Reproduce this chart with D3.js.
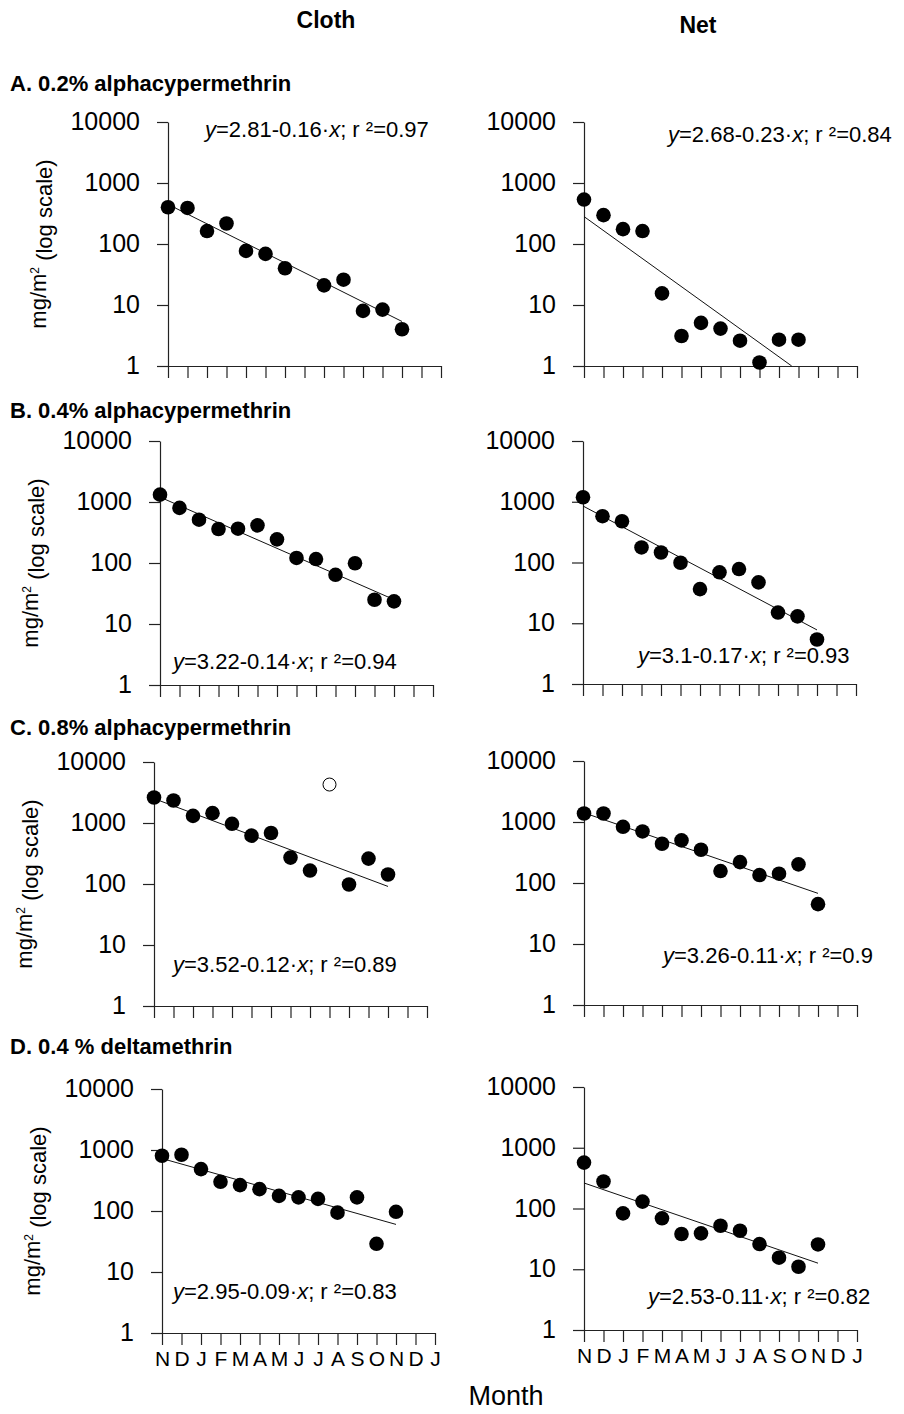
<!DOCTYPE html>
<html>
<head>
<meta charset="utf-8">
<script src="https://cdn.jsdelivr.net/npm/d3@7"></script>
<style>
  body { margin: 0; background: #fff; }
  text { font-family: "Liberation Sans", Arial, Helvetica, sans-serif; fill: #000; }
</style>
</head>
<body>
<div id="chart"></div>
<script>
// month ticks along the x axis (index 0 = first N)
var months = ["N", "D", "J", "F", "M", "A", "M", "J", "J", "A", "S", "O", "N", "D", "J"]
var yTicks = [1, 10, 100, 1000, 10000]

// residues, mg/m2, one value per month (null = no sample)
var clothA = [400, 390, 163, 217, 77, 69, 40, null, 21, 26, 8, 8.4, 4]
var netA = [535, 297, 175, 163, 15.5, 3.1, 5.1, 4.1, 2.6, 1.14, 2.7, 2.7]
var clothB = [1320, 800, 513, 361, 365, 414, 244, 121, 116, 64, 99, 25, 23.5]
var netB = [1186, 578, 478, 177, 146, 99, 36.5, 69, 78, 47, 15, 13, 5.4]
var clothC = [2620, 2340, 1310, 1450, 970, 620, 685, 271, 166, null, 98, 261, 143]
var clothCOpen = [null, null, null, null, null, null, null, null, null, 4270]
var netC = [1380, 1380, 834, 700, 440, 499, 351, 157, 220, 135, 142, 202, 45]
var clothD = [805, 836, 486, 301, 266, 228, 177, 167, 158, 94, 167, 29, 97]
var netD = [570, 278, 83, 130, 69, 38, 39, 52, 43, 26, 15.5, 11, 25.6]

// regression log10(y) = a + b*x, x = month number from 1
var fitA = [[2.81, -0.16, "0.97"], [2.68, -0.23, "0.84"]]
var fitB = [[3.22, -0.14, "0.94"], [3.1, -0.17, "0.93"]]
var fitC = [[3.52, -0.12, "0.89"], [3.26, -0.11, "0.9"]]
var fitD = [[2.95, -0.09, "0.83"], [2.53, -0.11, "0.82"]]

var titles = ["A. 0.2% alphacypermethrin", "B. 0.4% alphacypermethrin",
              "C. 0.8% alphacypermethrin", "D. 0.4 % deltamethrin"]

var svg = d3.select("#chart").append("svg").attr("width", 904).attr("height", 1414)
svg.append("rect").attr("width", 904).attr("height", 1414).attr("fill", "#fff")

svg.append("text").attr("x", 326).attr("y", 28).attr("text-anchor", "middle")
    .style("font-size", "23px").style("font-weight", "bold").text("Cloth")
svg.append("text").attr("x", 698).attr("y", 33).attr("text-anchor", "middle")
    .style("font-size", "23px").style("font-weight", "bold").text("Net")
svg.append("text").attr("x", 506).attr("y", 1405).attr("text-anchor", "middle")
    .style("font-size", "27px").text("Month")

// layout: axis x, top (10000), bottom (1), equation x / baseline
var panels = [
  {row: 0, data: clothA, fit: fitA[0], ax: 168, top: 122, bot: 366, ex: 205, ey: 137},
  {row: 0, data: netA, fit: fitA[1], ax: 584, top: 122, bot: 366, ex: 668, ey: 142, net: true},
  {row: 1, data: clothB, fit: fitB[0], ax: 160, top: 441, bot: 685, ex: 173, ey: 669},
  {row: 1, data: netB, fit: fitB[1], ax: 583, top: 441, bot: 684, ex: 638, ey: 663, net: true},
  {row: 2, data: clothC, fit: fitC[0], ax: 154, top: 762, bot: 1006, ex: 173, ey: 972, open: clothCOpen},
  {row: 2, data: netC, fit: fitC[1], ax: 584, top: 761, bot: 1005, ex: 663, ey: 963, net: true},
  {row: 3, data: clothD, fit: fitD[0], ax: 162, top: 1089, bot: 1333, ex: 173, ey: 1299},
  {row: 3, data: netD, fit: fitD[1], ax: 584, top: 1087, bot: 1330, ex: 648, ey: 1304, net: true}
]
var titleY = [91, 418, 735, 1054]

titles.forEach(function(t, i) {
  svg.append("text").attr("x", 10).attr("y", titleY[i])
      .style("font-size", "22px").style("font-weight", "bold").text(t)
})

panels.forEach(function(p) {
  var g = svg.append("g")
  var x = d3.scaleLinear().domain([0, 14]).range([p.ax, p.ax + 273])
  var y = d3.scaleLog().domain([1, 10000]).range([p.bot, p.top])

  var yAxis = g.append("g").attr("transform", "translate(" + p.ax + ",0)")
      .call(d3.axisLeft(y).tickValues(yTicks).tickFormat(d3.format("d"))
        .tickSize(11).tickSizeOuter(0).tickPadding(17))
  yAxis.selectAll("text").style("font-size", "25px").attr("dy", "0.3em")
      .style("font-family", "'Liberation Sans', Arial, sans-serif")

  var last = p.row == 3
  var xAxis = g.append("g").attr("transform", "translate(0," + p.bot + ")")
      .call(d3.axisBottom(x).tickValues(d3.range(15))
        .tickFormat(function(i) { return last ? months[i] : "" })
        .tickSize(12).tickSizeOuter(0).tickPadding(6))
  xAxis.selectAll("text").style("font-size", "21px")
      .style("font-family", "'Liberation Sans Narrow', 'Liberation Sans', Arial, sans-serif")

  g.selectAll(".domain, .tick line").attr("stroke", "#222").attr("stroke-width", 1.2)

  if (!p.net) {
    var cy = (p.top + p.bot) / 2
    var lab = g.append("text").attr("transform", "translate(" + (p.ax - 130) + "," + cy + ") rotate(-90)")
        .attr("text-anchor", "middle").attr("dy", "0.35em").style("font-size", "22px")
    lab.append("tspan").text("mg/m")
    lab.append("tspan").attr("dy", "-0.6em").style("font-size", "12px").text("2")
    lab.append("tspan").attr("dy", "0.6em").text(" (log scale)")
  }

  // regression line over the sampled months, cut at the bottom of the axis
  var a = p.fit[0], b = p.fit[1]
  var lastIdx = d3.max(p.data.map(function(v, i) { return v == null ? -1 : i }))
  var endIdx = Math.min(lastIdx, -a / b - 1)
  var linePts = [0, endIdx].map(function(i) { return [i, Math.pow(10, a + b * (i + 1))] })
  g.append("path")
      .attr("d", d3.line().x(function(d) { return x(d[0]) }).y(function(d) { return y(d[1]) })(linePts))
      .attr("stroke", "#111").attr("stroke-width", 1).attr("fill", "none")

  var pts = p.data.map(function(v, i) { return {i: i, v: v} }).filter(function(d) { return d.v != null })
  g.selectAll("circle.dot").data(pts).enter().append("circle")
      .attr("cx", function(d) { return x(d.i) })
      .attr("cy", function(d) { return y(d.v) })
      .attr("r", 7.3).attr("fill", "#000")

  if (p.open) {
    var op = p.open.map(function(v, i) { return {i: i, v: v} }).filter(function(d) { return d.v != null })
    g.selectAll("circle.open").data(op).enter().append("circle")
        .attr("cx", function(d) { return x(d.i) })
        .attr("cy", function(d) { return y(d.v) })
        .attr("r", 6.5).attr("fill", "#fff").attr("stroke", "#000").attr("stroke-width", 1)
  }

  var eq = g.append("text").attr("x", p.ex).attr("y", p.ey).style("font-size", "22px")
  eq.append("tspan").style("font-style", "italic").text("y")
  eq.append("tspan").text("=" + a + (b < 0 ? "-" : "+") + Math.abs(b) + "·")
  eq.append("tspan").style("font-style", "italic").text("x")
  eq.append("tspan").text("; r ²=" + p.fit[2])
})
</script>
</body>
</html>
